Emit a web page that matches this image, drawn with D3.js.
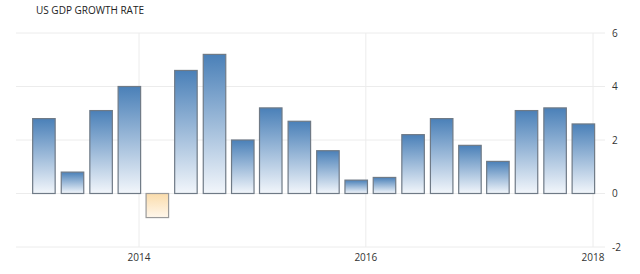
<!DOCTYPE html>
<html>
<head>
<meta charset="utf-8">
<script src="https://cdn.jsdelivr.net/npm/d3@7"></script>
<style>
  body { margin: 0; background: #fff; }
  svg { display: block; font-family: "Open Sans", "DejaVu Sans", sans-serif; }
</style>
</head>
<body>
<svg id="gdp_chart"></svg>
<script>
// Quarterly data, 2013 Q1 .. 2017 Q4
const quarters = ["2013-Q1", "2013-Q2", "2013-Q3", "2013-Q4",
                  "2014-Q1", "2014-Q2", "2014-Q3", "2014-Q4",
                  "2015-Q1", "2015-Q2", "2015-Q3", "2015-Q4",
                  "2016-Q1", "2016-Q2", "2016-Q3", "2016-Q4",
                  "2017-Q1", "2017-Q2", "2017-Q3", "2017-Q4"];
const growth = [2.8, 0.8, 3.1, 4.0,
                -0.9, 4.6, 5.2, 2.0,
                3.2, 2.7, 1.6, 0.5,
                0.6, 2.2, 2.8, 1.8,
                1.2, 3.1, 3.2, 2.6];
const yTicks = [-2, 0, 2, 4, 6];
const xTickYears = [2014, 2016, 2018];

function createGDPChart() {
    const svgWidth = 640, svgHeight = 274;
    const plot = { left: 16, right: 605, top: 33, bottom: 247 };

    const svg = d3.select("#gdp_chart")
        .attr("width", svgWidth)
        .attr("height", svgHeight);

    // Parse "YYYY-Qn" -> a date two months into the quarter (where the bar sits)
    const barDate = q => {
        const [y, n] = q.split("-Q").map(Number);
        return new Date(y, (n - 1) * 3 + 2, 1);
    };
    const data = quarters.map((q, i) => ({ date: barDate(q), value: growth[i] }));

    const xScale = d3.scaleTime()
        .domain([new Date(2014, 0, 1), new Date(2018, 0, 1)])
        .range([139, 593]);

    const yScale = d3.scaleLinear()
        .domain([-2, 6])
        .range([plot.bottom, plot.top]);

    const barWidth = 22.5;

    // Gradients
    const defs = svg.append("defs");
    const blue = defs.append("linearGradient")
        .attr("id", "gradBlue").attr("x1", 0).attr("y1", 0).attr("x2", 0).attr("y2", 1);
    blue.append("stop").attr("offset", "0%").attr("stop-color", "#4a80b8");
    blue.append("stop").attr("offset", "100%").attr("stop-color", "#f2f6fb");
    const orange = defs.append("linearGradient")
        .attr("id", "gradOrange").attr("x1", 0).attr("y1", 0).attr("x2", 0).attr("y2", 1);
    orange.append("stop").attr("offset", "0%").attr("stop-color", "#fadcab");
    orange.append("stop").attr("offset", "100%").attr("stop-color", "#fff7ec");

    // Horizontal grid lines
    svg.append("g")
        .selectAll("line")
        .data(yTicks)
        .join("line")
        .attr("x1", plot.left)
        .attr("x2", plot.right)
        .attr("y1", d => yScale(d))
        .attr("y2", d => yScale(d))
        .attr("stroke", "#ececec")
        .attr("stroke-width", 1);

    // Vertical grid lines at year marks
    svg.append("g")
        .selectAll("line")
        .data(xTickYears)
        .join("line")
        .attr("x1", d => xScale(new Date(d, 0, 1)))
        .attr("x2", d => xScale(new Date(d, 0, 1)))
        .attr("y1", plot.top)
        .attr("y2", plot.bottom)
        .attr("stroke", "#ececec")
        .attr("stroke-width", 1);

    // Bars
    svg.append("g")
        .selectAll("rect")
        .data(data)
        .join("rect")
        .attr("x", d => xScale(d.date) - barWidth / 2)
        .attr("y", d => yScale(Math.max(0, d.value)))
        .attr("width", barWidth)
        .attr("height", d => Math.abs(yScale(d.value) - yScale(0)))
        .attr("fill", d => d.value >= 0 ? "url(#gradBlue)" : "url(#gradOrange)")
        .attr("stroke", d => d.value >= 0 ? "#6f7a86" : "#9a9a9a")
        .attr("stroke-width", 1.2);

    // Y axis labels (right side)
    svg.append("g")
        .selectAll("text")
        .data(yTicks)
        .join("text")
        .attr("x", 612)
        .attr("y", d => yScale(d) + 3.5)
        .attr("text-anchor", "start")
        .style("font-size", "10px")
        .style("fill", "#333")
        .text(d => d);

    // X axis labels
    svg.append("g")
        .selectAll("text")
        .data(xTickYears)
        .join("text")
        .attr("x", d => xScale(new Date(d, 0, 1)))
        .attr("y", 261)
        .attr("text-anchor", "middle")
        .style("font-size", "10px")
        .style("fill", "#333")
        .text(d => d);

    // Title
    svg.append("text")
        .attr("x", 36)
        .attr("y", 14)
        .style("font-size", "10px")
        .style("fill", "#222")
        .text("US GDP GROWTH RATE");
}

createGDPChart();
</script>
</body>
</html>
